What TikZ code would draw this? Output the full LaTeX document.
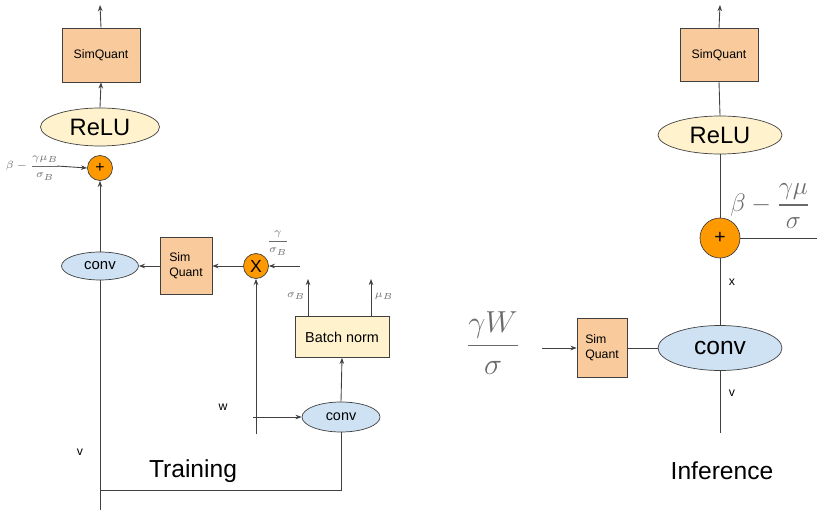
\documentclass[tikz,border=0pt]{standalone}
\usepackage{amsmath}
\usepackage{fontspec}
\setmainfont{Liberation Sans}
\usetikzlibrary{arrows.meta,calc,shapes.geometric}

\definecolor{quantfill}{HTML}{F9CB9C}
\definecolor{relufill}{HTML}{FFF2CC}
\definecolor{convfill}{HTML}{CFE2F3}
\definecolor{opfill}{HTML}{FF9900}
\definecolor{edge}{HTML}{404040}
\definecolor{mathgrey}{HTML}{6B6B6B}

\tikzset{
  quantbox/.style={draw=edge,fill=quantfill,inner sep=0pt,font=\fontsize{7}{8.5}\selectfont},
  relunode/.style={ellipse,draw=edge,fill=relufill,inner sep=0pt,font=\fontsize{13.5}{15}\selectfont},
  convnode/.style={ellipse,draw=edge,fill=convfill,inner sep=0pt,font=\fontsize{8.5}{10}\selectfont},
  opnode/.style={circle,draw=edge,fill=opfill,inner sep=0pt,minimum size=0.5cm},
  wire/.style={draw=edge,line width=0.5pt},
  arr/.style={wire,-{Stealth[length=3.5pt,width=2.6pt]}},
  tag/.style={font=\fontsize{7}{8}\selectfont,inner sep=0pt},
  mathtag/.style={text=mathgrey,inner sep=0pt,font=\fontsize{6}{7}\selectfont},
  caption/.style={font=\fontsize{14}{16}\selectfont,inner sep=0pt}
}

\begin{document}
\begin{tikzpicture}[x=0.02cm,y=-0.02cm]
  \useasboundingbox (0,0) rectangle (817,513);
  % training
  \node[quantbox,minimum width=1.56cm,minimum height=1.08cm] (sqout) at (101,55) {SimQuant};
  \node[relunode,minimum width=2.38cm,minimum height=0.76cm] (relu) at (100,127) {ReLU};
  \node[opnode] (add) at (100,168) {\fontsize{9}{9}\selectfont +};
  \node[convnode,minimum width=1.54cm,minimum height=0.56cm] (conv) at (100,266) {conv};
  \node[quantbox,minimum width=1.04cm,minimum height=1.14cm,align=left] (sqw) at (186,266) {Sim\\Quant};
  \node[opnode] (mul) at (256,266) {\fontsize{10}{10}\selectfont X};
  \node[quantbox,fill=relufill,font=\fontsize{8.2}{9}\selectfont,minimum width=1.88cm,minimum height=0.82cm] (bn) at (342,337) {Batch norm};
  \node[convnode,font=\fontsize{8.2}{9}\selectfont,minimum width=1.56cm,minimum height=0.6cm] (convbn) at (341,417) {conv};

  \coordinate (outT) at (100,5);
  \coordinate (biasin) at (57,166);
  \coordinate (gin) at (300,266);
  \coordinate (wbot) at (256,434);
  \coordinate (wtap) at (253,417);
  \coordinate (vbot) at (100,510);
  \coordinate (loop) at (100,490);
  \coordinate (sigout) at (308,279);
  \coordinate (muout) at (371,279);

  \draw[arr] (sqout.north) -- (outT);
  \draw[arr] (relu.north) -- (sqout.south);
  \draw[arr] (biasin) -- (add.west);
  \draw[arr] (conv.north) -- (add.south);
  \draw[wire] (conv.south) -- (vbot);
  \draw[arr] (sqw.west) -- (conv.east);
  \draw[arr] (mul.west) -- (sqw.east);
  \draw[arr] (gin) -- (mul.east);
  \draw[arr] (wbot) -- (mul.south);
  \draw[arr] (wtap) -- (convbn.west);
  \draw[arr] (convbn.north) -- (bn.south);
  \draw[wire] (convbn.south) |- (loop);
  \draw[arr] (sigout |- bn.north) -- (sigout);
  \draw[arr] (muout |- bn.north) -- (muout);

  \node[mathtag,font=\fontsize{6.5}{7.5}\selectfont] (biaslbl) at (33,168) {$\beta-\dfrac{\gamma\mu_B}{\sigma_B}$};
  \node[mathtag] (gamlbl) at (278,243) {$\dfrac{\gamma}{\sigma_B}$};
  \node[mathtag] (siglbl) at (296,296) {$\sigma_B$};
  \node[mathtag] (mulbl) at (384,296) {$\mu_B$};
  \node[tag] (wlbl) at (223,407) {w};
  \node[tag] (vlbl) at (80,452) {v};
  \node[caption] (train) at (193,471) {Training};

  % inference
  \node[quantbox,minimum width=1.56cm,minimum height=1.06cm] (sqout2) at (719,55) {SimQuant};
  \node[relunode,minimum width=2.48cm,minimum height=0.76cm] (relu2) at (720,135) {ReLU};
  \node[opnode,minimum size=0.8cm] (add2) at (720,238) {\fontsize{11}{11}\selectfont +};
  \node[convnode,font=\fontsize{14}{16}\selectfont,minimum width=2.48cm,minimum height=0.9cm] (conv2) at (720,348) {conv};
  \node[quantbox,minimum width=1.0cm,minimum height=1.18cm,align=left] (sqw2) at (602,348) {Sim\\Quant};

  \coordinate (outT2) at (720,5);
  \coordinate (biasout) at (817,238);
  \coordinate (vbot2) at (720,433);
  \coordinate (wsin) at (542,348);

  \draw[arr] (sqout2.north) -- (outT2);
  \draw[wire] (relu2.north) -- (sqout2.south);
  \draw[wire] (add2.north) -- (relu2.south);
  \draw[wire] (add2.east) -- (biasout);
  \draw[wire] (conv2.north) -- (add2.south);
  \draw[wire] (conv2.south) -- (vbot2);
  \draw[wire] (sqw2.east) -- (conv2.west);
  \draw[arr] (wsin) -- (sqw2.west);

  \node[mathtag,font=\fontsize{15.5}{18}\selectfont,anchor=west] (bias2) at (730,206) {$\beta-\dfrac{\gamma\mu}{\sigma}$};
  \node[mathtag,font=\fontsize{17}{20}\selectfont] (wlbl2) at (493,343) {$\dfrac{\gamma W}{\sigma}$};
  \node[tag] (xlbl) at (732,282) {x};
  \node[tag] (vlbl2) at (732,393) {v};
  \node[caption] (infer) at (722,471) {Inference};
\end{tikzpicture}
\end{document}
